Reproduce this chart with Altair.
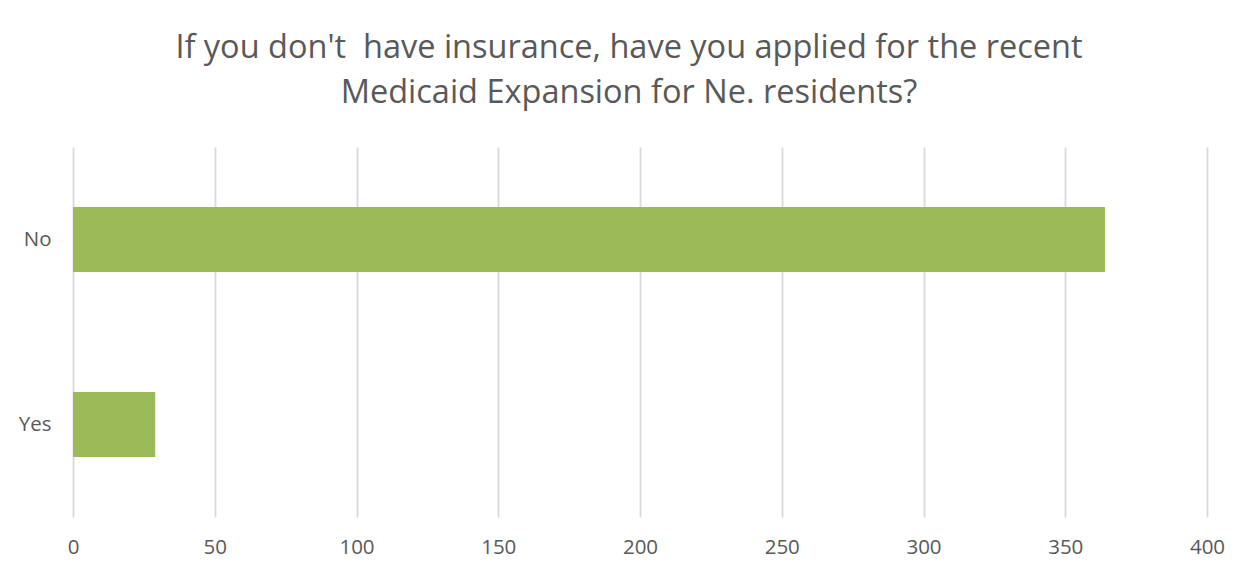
import altair as alt
import pandas as pd

categories = ["No", "Yes"]
values = [364, 29]
x_ticks = [0, 50, 100, 150, 200, 250, 300, 350, 400]
title_lines = ["If you don't\u00a0 have insurance, have you applied for the recent",
               "Medicaid Expansion for Ne. residents?"]

df = pd.DataFrame({"answer": categories, "count": values})

FONT = "Open Sans"
GREY = "#595959"

chart = alt.Chart(df).mark_bar(color="#9BBB59").encode(
    x=alt.X("count:Q",
            scale=alt.Scale(domain=[0, 400], nice=False),
            axis=alt.Axis(values=x_ticks, title=None, grid=True, gridColor="#d9d9d9",
                          gridWidth=1.8, domain=False, ticks=False, labelPadding=20,
                          labelFlush=False, labelFontSize=20.5, labelColor=GREY,
                          labelFont=FONT)),
    y=alt.Y("answer:N", sort=categories,
            scale=alt.Scale(paddingInner=0.649, paddingOuter=0.3245),
            axis=alt.Axis(title=None, domain=False, ticks=False, labelPadding=22,
                          labelFontSize=20.5, labelColor=GREY, labelFont=FONT)),
).properties(
    width=1134,
    height=370,
    autosize=alt.AutoSizeParams(type="none"),
    padding={"left": 65, "top": 139, "right": 40, "bottom": 45},
    title=alt.TitleParams(text=title_lines, font=FONT, fontSize=32.5, fontWeight="normal",
                          color=GREY, anchor="middle", dx=-11, offset=38, lineHeight=45),
).configure(background="white").configure_view(stroke=None)

chart.save("out.html", embed_options={"renderer": "svg", "actions": False})
